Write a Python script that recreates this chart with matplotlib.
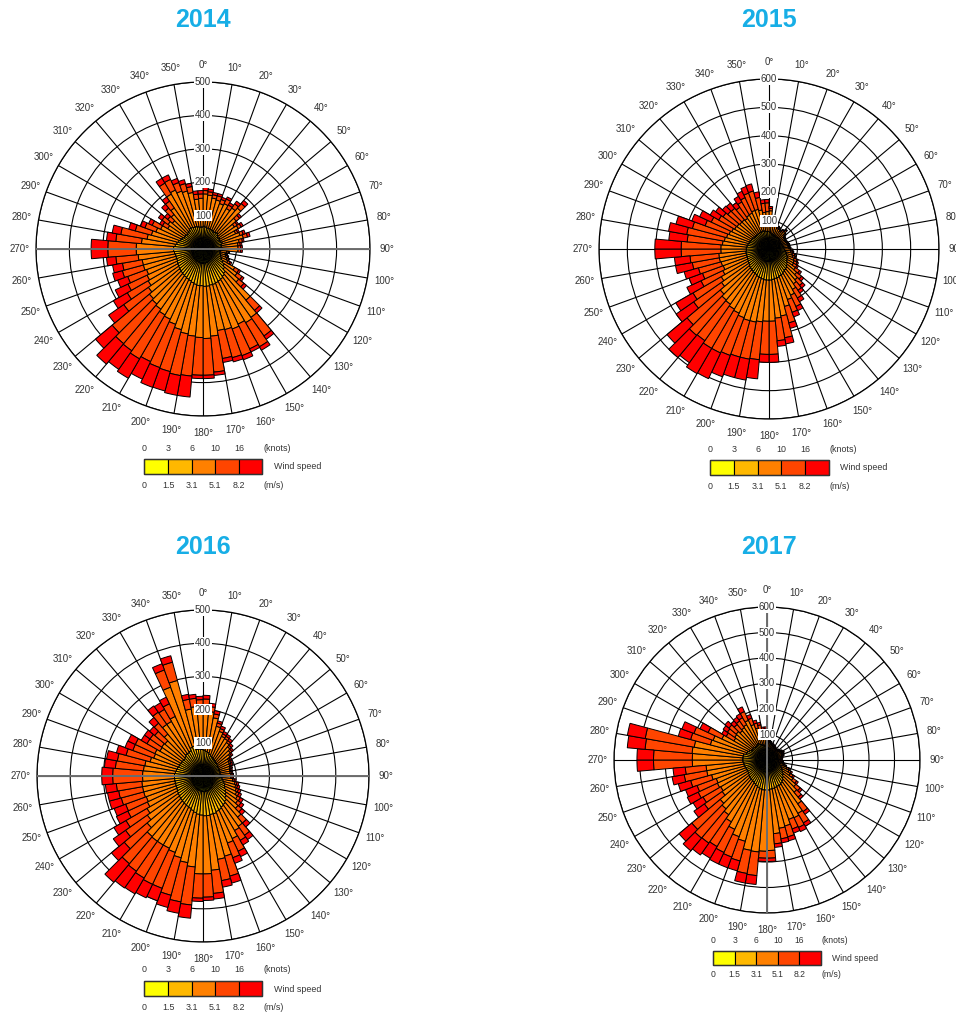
import numpy as np
import matplotlib
matplotlib.use('Agg')
import matplotlib.pyplot as plt
from matplotlib.patches import Rectangle

plt.rcParams['font.family'] = ['Liberation Sans', 'DejaVu Sans']

# ---------------- categories / scales ----------------
direction_bins = list(range(0, 360, 5))        # start of each 5-degree direction bin
bin_width = 5
speed_colors = ['#FFFF00', '#FFB800', '#FF8000', '#FF4500', '#FF0000']
knot_ticks = ['0', '3', '6', '10', '16']
ms_ticks = ['0', '1.5', '3.1', '5.1', '8.2']
years = ['2014', '2015', '2016', '2017']
ring_max = {'2014': 500, '2015': 600, '2016': 500, '2017': 600}

# ---------------- data: cumulative frequency (count) up to each speed class ----------------
# 2014
lim14_c1 = [30,29,28,28,27,27,26,26,27,26,25,25,24,25,25,24,24,24,
            25,23,23,24,25,26,28,30,32,35,37,38,39,40,41,41,42,42,
            42,42,41,41,40,40,39,39,38,38,36,35,34,33,33,33,34,34,
            34,33,32,31,30,30,28,28,28,29,30,31,31,30,30,30,29,29]
lim14_c2 = [68,66,64,64,62,62,60,62,64,60,56,58,55,58,60,56,55,56,
            58,52,52,55,58,62,70,78,85,95,100,104,106,108,110,110,112,112,
            110,110,108,105,102,100,98,96,94,92,90,88,86,84,84,84,86,88,
            88,84,80,76,72,70,66,66,64,66,68,72,72,70,70,68,66,66]
lim14_c3 = [165,162,155,152,145,150,140,150,160,130,115,122,108,118,125,110,105,105,
            105,72,68,72,76,82,110,125,140,200,250,255,248,255,250,248,262,268,
            265,262,258,250,240,232,228,220,215,210,200,190,185,180,185,185,195,200,
            200,185,170,160,150,140,122,128,120,135,150,190,195,185,180,172,150,152]
lim14_c4 = [175,172,165,165,158,165,152,165,178,143,125,132,115,128,138,120,112,113,
            113,77,72,77,82,90,124,143,160,240,318,338,330,340,337,333,370,378,
            378,382,385,380,378,372,380,372,370,355,290,262,248,240,250,245,262,285,
            285,262,250,210,185,168,140,150,138,160,175,228,230,212,203,190,165,165]
lim14_c5 = [185,180,172,172,165,172,160,175,190,150,130,139,120,135,146,125,117,118,
            118,80,75,80,85,95,130,150,170,250,330,350,340,353,350,345,380,388,
            388,445,445,440,441,430,447,440,450,420,345,310,290,272,280,275,290,335,
            335,290,276,230,199,180,150,163,150,175,190,245,245,225,215,200,175,175]

# 2015
lim15_c1 = [26,25,24,23,22,22,21,22,22,21,20,20,20,20,21,22,22,23,
            24,25,26,28,30,31,32,34,36,38,39,40,41,42,43,43,44,44,
            44,44,43,43,42,41,40,39,38,37,36,35,34,33,33,33,33,32,
            32,31,31,30,30,29,28,28,27,27,27,27,27,28,28,27,26,26]
lim15_c2 = [60,56,54,52,50,50,48,50,52,48,46,46,45,46,48,50,50,52,
            55,58,62,65,70,72,75,80,85,90,92,96,100,102,105,106,108,110,
            110,110,108,106,104,100,98,96,94,92,88,86,84,82,82,82,82,80,
            80,78,76,74,72,70,68,66,65,65,64,65,66,66,66,65,62,62]
lim15_c3 = [135,104,90,86,80,77,72,76,82,72,66,64,62,64,66,68,68,70,
            76,78,84,88,95,98,100,114,128,142,150,165,180,190,210,240,245,255,
            255,258,262,262,258,250,245,238,235,225,205,195,180,172,175,178,178,170,
            170,165,160,155,150,145,140,138,135,135,132,138,140,145,145,140,130,132]
lim15_c4 = [143,110,96,91,85,82,77,82,88,77,70,68,66,68,70,72,72,75,
            82,85,92,96,105,110,114,132,150,168,178,200,224,238,270,318,325,372,
            372,392,395,395,400,405,405,395,398,378,325,310,265,250,258,275,280,310,
            310,290,295,280,240,225,205,198,190,188,180,192,200,210,212,185,162,163]
lim15_c5 = [150,115,100,95,88,85,80,85,92,80,72,70,68,70,72,75,75,78,
            85,88,95,100,110,115,120,140,160,180,190,215,240,255,290,340,345,400,
            400,460,470,470,480,505,508,490,500,470,400,380,320,300,310,335,335,403,
            403,355,360,340,290,270,240,230,215,212,200,215,225,235,238,205,175,175]

# 2016
lim16_c1 = [32,31,30,29,28,27,26,25,25,24,24,23,23,23,23,23,23,23,
            24,25,27,28,30,32,34,36,38,40,42,43,44,45,46,46,47,47,
            46,46,45,44,43,42,41,40,39,38,37,36,35,35,35,35,35,35,
            35,34,34,33,32,32,31,31,31,32,33,33,34,36,36,34,33,32]
lim16_c2 = [78,75,72,68,65,62,60,58,56,55,54,52,52,52,52,52,52,53,
            54,58,62,66,70,74,80,86,92,100,105,108,112,114,118,118,120,120,
            118,116,112,108,104,102,100,98,96,94,92,90,88,86,86,86,86,86,
            86,84,82,80,78,78,76,76,75,78,82,82,84,92,94,82,82,80]
lim16_c3 = [215,195,178,155,143,132,130,123,115,108,100,90,88,86,84,82,82,84,
            84,90,98,102,107,112,120,128,138,162,185,190,208,215,250,255,285,295,
            295,275,265,255,245,240,240,240,238,220,205,195,185,182,185,185,185,182,
            182,180,178,165,158,160,150,152,150,165,190,190,198,285,298,205,210,205]
lim16_c4 = [232,210,190,165,152,140,138,130,121,114,105,95,93,91,88,86,86,88,
            88,95,104,108,114,120,130,140,153,185,218,224,250,262,312,320,355,365,
            368,390,385,372,360,360,355,350,345,310,285,268,250,248,255,258,262,272,
            272,265,262,240,225,225,195,195,190,208,235,232,240,340,355,235,235,230]
lim16_c5 = [243,220,200,172,160,148,145,138,128,120,110,100,98,96,92,90,90,92,
            92,100,110,115,122,128,140,150,165,200,234,240,268,280,334,340,372,375,
            378,430,420,410,400,405,410,412,418,360,330,310,288,285,292,292,295,305,
            305,298,295,270,250,249,215,215,210,230,258,255,262,360,375,250,247,240]

# 2017
lim17_c1 = [24,22,21,20,20,19,19,18,18,18,18,19,20,20,19,19,18,18,
            19,20,21,22,24,26,28,30,33,35,38,40,42,43,44,44,45,46,
            46,46,45,44,43,42,41,40,39,38,37,36,36,36,37,37,37,38,
            38,38,37,35,34,32,30,30,30,29,29,29,30,28,27,26,24,24]
lim17_c2 = [55,48,45,44,43,42,40,40,38,40,40,42,44,43,42,40,40,40,
            42,44,48,52,58,64,70,78,85,92,100,106,110,110,112,114,115,118,
            118,118,116,112,108,104,100,98,96,94,90,88,88,88,90,92,92,95,
            95,95,94,85,82,78,70,70,70,68,68,70,72,66,62,60,56,56]
lim17_c3 = [95,70,65,61,59,56,54,52,50,54,56,60,64,62,60,56,54,52,
            54,56,62,70,82,95,106,125,148,165,210,242,250,248,268,272,290,355,
            358,362,360,330,320,300,280,262,250,240,215,210,215,212,225,240,240,293,
            293,295,290,230,225,195,150,155,158,150,155,160,172,148,130,122,108,110]
lim17_c4 = [103,75,70,66,64,61,58,56,54,58,61,65,70,67,65,61,58,56,
            58,61,68,76,90,104,118,142,170,190,247,285,292,288,312,314,330,385,
            385,455,452,410,405,400,392,398,400,385,300,290,298,292,310,330,322,445,
            445,480,485,310,305,255,185,190,195,182,187,192,210,175,150,140,122,122]
lim17_c5 = [110,80,75,70,68,65,62,60,58,62,65,70,75,72,70,65,62,60,
            62,65,72,80,95,110,125,150,180,200,260,300,310,305,328,330,344,398,
            398,490,490,450,450,450,445,455,465,450,350,335,345,340,360,378,370,510,
            510,550,556,360,355,290,205,210,215,200,205,210,230,190,162,150,130,130]

year_limits = {
    '2014': [lim14_c1, lim14_c2, lim14_c3, lim14_c4, lim14_c5],
    '2015': [lim15_c1, lim15_c2, lim15_c3, lim15_c4, lim15_c5],
    '2016': [lim16_c1, lim16_c2, lim16_c3, lim16_c4, lim16_c5],
    '2017': [lim17_c1, lim17_c2, lim17_c3, lim17_c4, lim17_c5],
}

# ---------------- layout (pixels) ----------------
W, H = 956, 1013
layout = {
    '2014': dict(c=(203, 249), R=167, title=(203, 20),
                 leg=dict(x0=144.5, x1=262.5, yb=459, hb=15, yk=448, ym=485, wsx=274, wsy=466, fs=6.4),
                 hline=True, vline=False),
    '2015': dict(c=(769, 249), R=170, title=(769, 20),
                 leg=dict(x0=710, x1=829, yb=460, hb=15, yk=449, ym=486, wsx=840, wsy=467, fs=6.4),
                 hline=False, vline=False),
    '2016': dict(c=(203, 776), R=166, title=(203, 547),
                 leg=dict(x0=144.5, x1=262.5, yb=981, hb=15, yk=969, ym=1007, wsx=274, wsy=989, fs=6.4),
                 hline=True, vline=False),
    '2017': dict(c=(767, 760), R=153, title=(769, 547),
                 leg=dict(x0=713, x1=821, yb=951, hb=14, yk=940, ym=974, wsx=832, wsy=958, fs=6.2),
                 hline=False, vline=True),
}

fig = plt.figure(figsize=(W / 100, H / 100), dpi=100)
ov = fig.add_axes([0, 0, 1, 1])
ov.set_xlim(0, W)
ov.set_ylim(H, 0)
ov.axis('off')

title_color = '#17AEE6'
text_color = '#333333'

theta = np.deg2rad(np.array(direction_bins) + bin_width / 2)
width = np.deg2rad(bin_width)

for yr in years:
    L = layout[yr]
    cx, cy = L['c']
    R = L['R']
    rmax = ring_max[yr]
    ax = fig.add_axes([(cx - R) / W, (H - cy - R) / H, 2 * R / W, 2 * R / H], projection='polar')
    ax.set_theta_zero_location('N')
    ax.set_theta_direction(-1)
    ax.set_ylim(0, rmax)
    ax.set_axisbelow(True)

    prev = np.zeros(len(direction_bins))
    for lim, col in zip(year_limits[yr], speed_colors):
        lim = np.asarray(lim, dtype=float)
        ax.bar(theta, lim - prev, width=width, bottom=prev, color=col,
               edgecolor='black', linewidth=0.7, zorder=2)
        prev = lim

    angles = list(range(0, 360, 10))
    ax.set_thetagrids(angles, labels=[f'{a}°' for a in angles])
    rings = list(range(100, rmax + 1, 100))
    ax.set_rgrids(rings, labels=[''] * len(rings))
    ax.grid(True, color='black', linewidth=0.8)
    ax.spines['polar'].set_color('black')
    ax.spines['polar'].set_linewidth(0.9)
    ax.tick_params(axis='x', labelsize=7, labelcolor=text_color, pad=1.5)
    ax.tick_params(axis='y', length=0)

    if L['hline']:
        for a in (90, 270):
            ax.plot([np.deg2rad(a)] * 2, [0, rmax], color='#6e6e6e', lw=1.4, zorder=4)
    if L['vline']:
        for a in (0, 180):
            ax.plot([np.deg2rad(a)] * 2, [0, rmax], color='#6e6e6e', lw=1.4, zorder=4)

    for r in rings:
        ax.text(0, r, str(r), ha='center', va='center', fontsize=7, color=text_color, zorder=6,
                bbox=dict(facecolor='white', edgecolor='none', pad=0.6))

    # title
    tx, ty = L['title']
    ov.text(tx, ty, yr, ha='center', va='center', fontsize=18, fontweight='bold', color=title_color)

    # speed legend
    g = L['leg']
    bw = (g['x1'] - g['x0']) / len(speed_colors)
    for i, col in enumerate(speed_colors):
        ov.add_patch(Rectangle((g['x0'] + i * bw, g['yb']), bw, g['hb'], facecolor=col,
                               edgecolor='black', linewidth=0.8))
    ov.add_patch(Rectangle((g['x0'], g['yb']), g['x1'] - g['x0'], g['hb'], facecolor='none',
                           edgecolor='#333333', linewidth=1.0))
    for i, (k, m) in enumerate(zip(knot_ticks, ms_ticks)):
        ov.text(g['x0'] + i * bw, g['yk'], k, ha='center', va='center', fontsize=g['fs'], color=text_color)
        ov.text(g['x0'] + i * bw, g['ym'], m, ha='center', va='center', fontsize=g['fs'], color=text_color)
    ov.text(g['x1'] + 1, g['yk'], '(knots)', ha='left', va='center', fontsize=g['fs'], color=text_color)
    ov.text(g['x1'] + 1, g['ym'], '(m/s)', ha='left', va='center', fontsize=g['fs'], color=text_color)
    ov.text(g['wsx'], g['wsy'], 'Wind speed', ha='left', va='center', fontsize=g['fs'], color=text_color)

fig.savefig('out.png', dpi=100)
